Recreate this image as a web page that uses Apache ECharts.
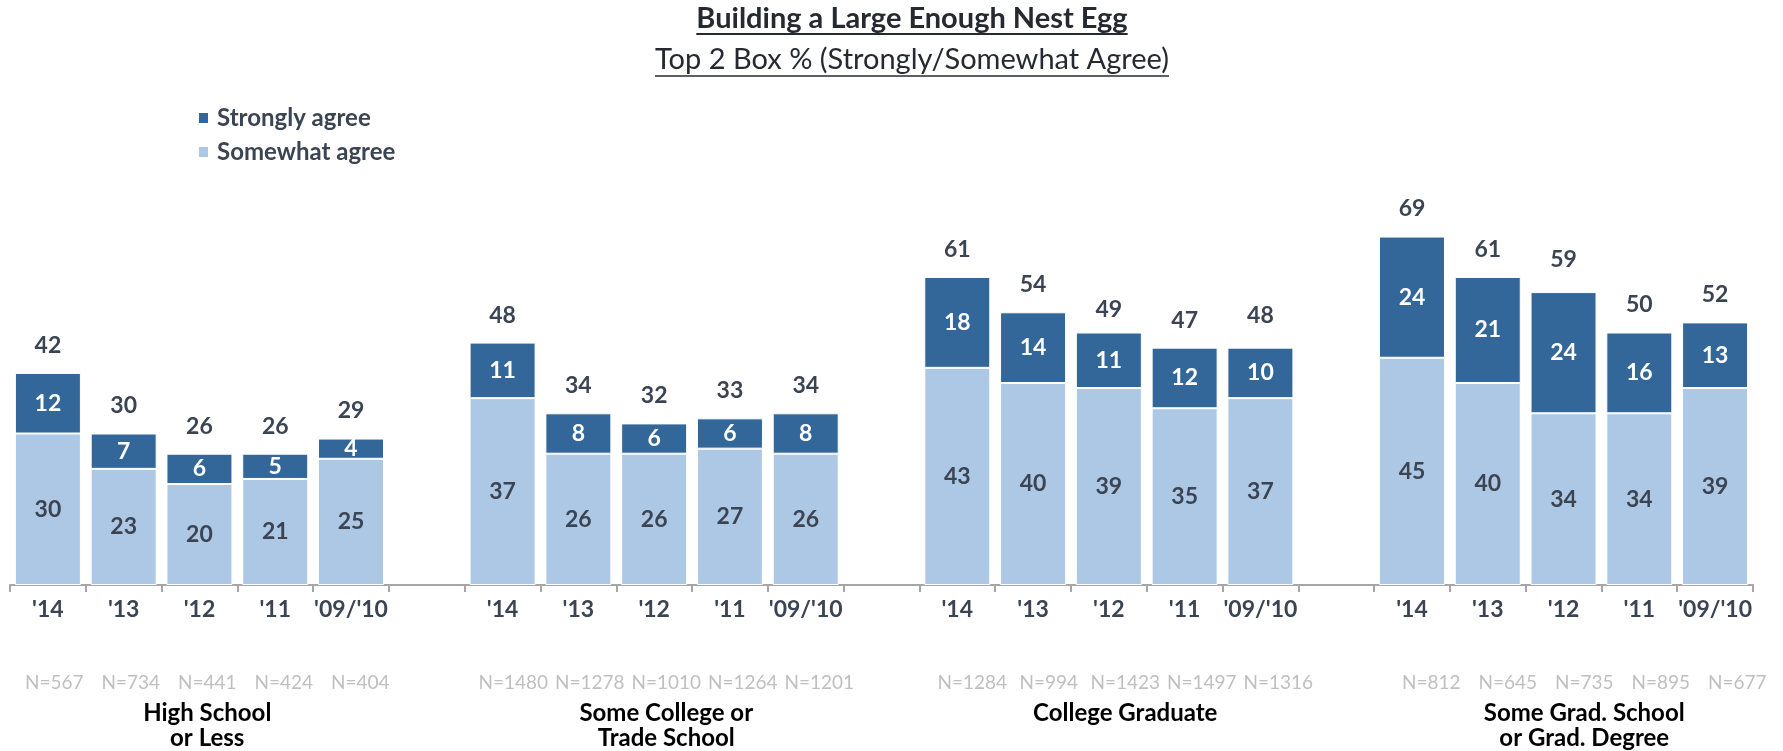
<!DOCTYPE html>
<html>
<head>
<meta charset="utf-8">
<title>Building a Large Enough Nest Egg</title>
<script src="https://cdn.jsdelivr.net/npm/echarts@6/dist/echarts.min.js"></script>
<style>
  html, body { margin: 0; padding: 0; background: #ffffff; }
  #chart { width: 1783px; height: 751px; }
</style>
</head>
<body>
<div id="chart"></div>
<script>
// Survey waves shown inside every education group
const years = ["'14", "'13", "'12", "'11", "'09/'10"];
const groups = ['High School\nor Less', 'Some College or\nTrade School', 'College Graduate', 'Some Grad. School\nor Grad. Degree'];

// Percent agreeing, per group, per wave
const somewhatAgree = [
  [30, 23, 20, 21, 25],
  [37, 26, 26, 27, 26],
  [43, 40, 39, 35, 37],
  [45, 40, 34, 34, 39]
];
const stronglyAgree = [
  [12, 7, 6, 5, 4],
  [11, 8, 6, 6, 8],
  [18, 14, 11, 12, 10],
  [24, 21, 24, 16, 13]
];
// Top 2 Box totals as reported
const totals = [
  [42, 30, 26, 26, 29],
  [48, 34, 32, 33, 34],
  [61, 54, 49, 47, 48],
  [69, 61, 59, 50, 52]
];
// Sample sizes
const sampleSizes = [
  [567, 734, 441, 424, 404],
  [1480, 1278, 1010, 1264, 1201],
  [1284, 994, 1423, 1497, 1316],
  [812, 645, 735, 895, 677]
];

// Flatten groups onto one category axis, with an empty slot between groups
const cats = [], nCats = [], groupCats = [], sA = [], sS = [], sT = [];
groups.forEach((g, gi) => {
  if (gi > 0) {
    cats.push(''); nCats.push(''); groupCats.push('');
    sA.push('-'); sS.push('-'); sT.push('-');
  }
  years.forEach((y, yi) => {
    cats.push(y);
    nCats.push('N=' + sampleSizes[gi][yi]);
    groupCats.push(yi === 2 ? g : '');
    sA.push(somewhatAgree[gi][yi]);
    sS.push(stronglyAgree[gi][yi]);
    sT.push(totals[gi][yi]);
  });
});

const DARK = '#336699';
const LIGHT = '#adc8e4';
const TEXT = '#3b4453';
const FONT = 'Lato';

// Underlined heading text
const measureCtx = document.createElement('canvas').getContext('2d');
function textWidth(text, font) { measureCtx.font = font; return measureCtx.measureText(text).width; }
const titleText = 'Building a Large Enough Nest Egg';
const subText = 'Top 2 Box % (Strongly/Somewhat Agree)';
const titleFont = 'bold 29px ' + FONT;
const subFont = '29px ' + FONT;
const cx = 912;
const tw = textWidth(titleText, titleFont);
const sw = textWidth(subText, subFont);

const chart = echarts.init(document.getElementById('chart'), null, { renderer: 'canvas' });

const barW = 66;
const commonBar = { type: 'bar', barWidth: barW, barGap: '-100%', xAxisIndex: 0, yAxisIndex: 0 };
const numFont = { fontFamily: FONT, fontWeight: 'bold', fontSize: 23 };

chart.setOption({
  animation: false,
  backgroundColor: '#ffffff',
  textStyle: { fontFamily: FONT },
  graphic: [
    { type: 'text', x: cx, y: 19, style: { text: titleText, font: titleFont, fill: '#262a30', align: 'center', verticalAlign: 'middle' } },
    { type: 'line', shape: { x1: cx - tw / 2, y1: 34, x2: cx + tw / 2, y2: 34 }, style: { stroke: '#262a30', lineWidth: 2 } },
    { type: 'text', x: cx, y: 60, style: { text: subText, font: subFont, fill: '#262a30', align: 'center', verticalAlign: 'middle' } },
    { type: 'line', shape: { x1: cx - sw / 2, y1: 76, x2: cx + sw / 2, y2: 76 }, style: { stroke: '#262a30', lineWidth: 1.5 } }
  ],
  legend: {
    data: ['Strongly agree', 'Somewhat agree'],
    orient: 'vertical',
    left: 192,
    top: 101,
    itemWidth: 11,
    itemHeight: 12,
    itemGap: 10,
    icon: 'rect',
    textStyle: { fontFamily: FONT, fontWeight: 'bold', fontSize: 24, color: TEXT, padding: [0, 0, 0, 3] },
    selectedMode: false
  },
  grid: [
    // bars
    { left: 10, right: 30, top: 181, bottom: 166, containLabel: false },
    // sample sizes and group names, on their own slightly wider spacing
    { left: 16, right: 7.5, top: 181, bottom: 166, containLabel: false }
  ],
  xAxis: [
    {
      type: 'category',
      gridIndex: 0,
      data: cats,
      position: 'bottom',
      axisLine: { show: true, lineStyle: { color: '#a6a6a6', width: 2 } },
      axisTick: { show: true, length: 7, lineStyle: { color: '#a6a6a6', width: 2 }, interval: 0 },
      axisLabel: Object.assign({ interval: 0, margin: 25, verticalAlign: 'middle', color: TEXT }, numFont)
    },
    {
      type: 'category',
      gridIndex: 1,
      data: nCats,
      position: 'bottom',
      offset: 88,
      axisLine: { show: false },
      axisTick: { show: false },
      axisLabel: { interval: 0, margin: 14, verticalAlign: 'middle', fontFamily: FONT, fontSize: 19, color: '#bfbfbf' }
    },
    {
      type: 'category',
      gridIndex: 1,
      data: groupCats,
      position: 'bottom',
      offset: 106,
      axisLine: { show: false },
      axisTick: { show: false },
      axisLabel: { interval: 0, margin: 14, verticalAlign: 'top', lineHeight: 25, fontFamily: FONT, fontWeight: 'bold', fontSize: 24, color: '#000000' }
    }
  ],
  yAxis: [
    { type: 'value', gridIndex: 0, min: 0, max: 80, show: false, splitLine: { show: false } },
    { type: 'value', gridIndex: 1, min: 0, max: 80, show: false, splitLine: { show: false } }
  ],
  series: [
    Object.assign({}, commonBar, {
      name: 'Somewhat agree',
      stack: 'agree',
      data: sA,
      itemStyle: { color: LIGHT, borderColor: '#ffffff', borderWidth: 1 },
      label: Object.assign({ show: true, position: 'inside', color: TEXT }, numFont)
    }),
    Object.assign({}, commonBar, {
      name: 'Strongly agree',
      stack: 'agree',
      data: sS,
      itemStyle: { color: DARK, borderColor: '#ffffff', borderWidth: 1 },
      label: Object.assign({ show: true, position: 'inside', color: '#ffffff' }, numFont)
    }),
    Object.assign({}, commonBar, {
      name: 'Total',
      data: sT,
      silent: true,
      itemStyle: { color: 'rgba(0,0,0,0)' },
      label: Object.assign({ show: true, position: 'top', distance: 16, color: TEXT }, numFont)
    })
  ]
});
</script>
</body>
</html>
